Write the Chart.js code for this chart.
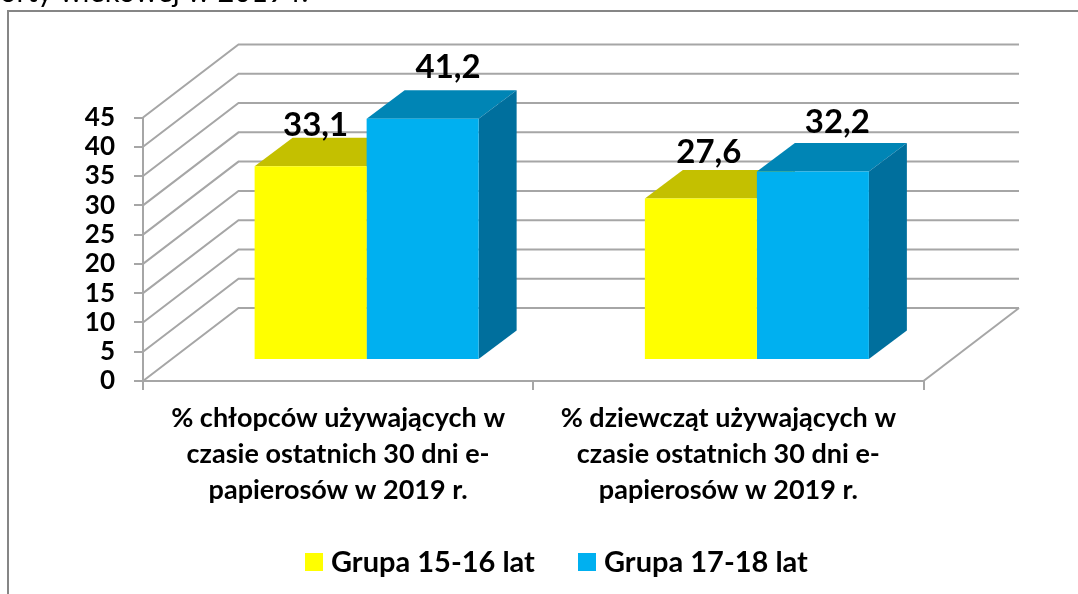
<!DOCTYPE html>
<html><head><meta charset="utf-8">
<style>html,body{margin:0;padding:0;background:#fff}#w{width:1078px;height:594px;position:relative}</style>
<script src="https://cdn.jsdelivr.net/npm/chart.js@4"></script>
</head><body><div id="w"><canvas id="c" width="1078" height="594"></canvas></div>
<script>
const categories = [
  ['% chłopców używających w','czasie ostatnich 30 dni e-','papierosów w 2019 r.'],
  ['% dziewcząt używających w','czasie ostatnich 30 dni e-','papierosów w 2019 r.']
];
const seriesNames = ['Grupa 15-16 lat','Grupa 17-18 lat'];
const group1516 = [33.1, 27.6];
const group1718 = [41.2, 32.2];
const headingText = 'orty wiekowej w 2019 r.';

const FONT = 'Lato, Carlito, sans-serif';
const GRID = '#A6A6A6';
const WALL = {dx:95.5, dy:-73};      // full depth of the 3D floor
const BAR  = {dx:28.5, dy:-21};      // bars stand this far back from the front edge
const DEPTH= {dx:38, dy:-28.5};      // depth of each bar
const faces = [
  {top:'#C4C000', side:'#A8A500'},
  {top:'#0085B5', side:'#006F9D'}
];
const labelShift = [[[5,-30],[8,-35]],[[25.5,-41],[24.5,-38]]];

function poly(ctx,pts,fill){ctx.beginPath();pts.forEach((p,i)=>i?ctx.lineTo(p[0],p[1]):ctx.moveTo(p[0],p[1]));ctx.closePath();ctx.fillStyle=fill;ctx.fill();}

const chart3d = {
  id:'chart3d',
  beforeDatasetsDraw(chart){
    const {ctx,chartArea:a,scales:{y}} = chart;
    ctx.save();
    ctx.strokeStyle=GRID; ctx.lineWidth=2;
    y.ticks.forEach(t=>{
      const py=y.getPixelForValue(t.value);
      ctx.beginPath();
      ctx.moveTo(a.left,py);
      ctx.lineTo(a.left+WALL.dx,py+WALL.dy);
      ctx.lineTo(a.right+WALL.dx,py+WALL.dy);
      ctx.stroke();
    });
    ctx.beginPath();
    ctx.moveTo(a.right,a.bottom);
    ctx.lineTo(a.right+WALL.dx,a.bottom+WALL.dy);
    ctx.stroke();
    ctx.restore();
    chart.data.datasets.forEach((ds,i)=>{
      const f=faces[i];
      chart.getDatasetMeta(i).data.forEach(b=>{
        const l=b.x-b.width/2+BAR.dx, r=b.x+b.width/2+BAR.dx, t=b.y+BAR.dy, bt=b.base+BAR.dy;
        poly(ctx,[[l,t],[r,t],[r+DEPTH.dx,t+DEPTH.dy],[l+DEPTH.dx,t+DEPTH.dy]],f.top);
        poly(ctx,[[r,t],[r+DEPTH.dx,t+DEPTH.dy],[r+DEPTH.dx,bt+DEPTH.dy],[r,bt]],f.side);
      });
    });
  },
  beforeDatasetDraw(chart){
    chart.ctx.save();
    chart.ctx.translate(BAR.dx,BAR.dy);
  },
  afterDatasetDraw(chart){ chart.ctx.restore(); },
  afterDatasetsDraw(chart){
    const {ctx}=chart;
    ctx.save();
    ctx.fillStyle='#000'; ctx.textAlign='center'; ctx.textBaseline='alphabetic';
    ctx.font='bold 33px '+FONT;
    chart.data.datasets.forEach((ds,i)=>{
      chart.getDatasetMeta(i).data.forEach((b,j)=>{
        const s=labelShift[i][j];
        ctx.fillText(String(ds.data[j]).replace('.',','), b.x+BAR.dx+s[0], b.y+BAR.dy+s[1]);
      });
    });
    ctx.restore();
  },
  afterDraw(chart){
    const {ctx}=chart;
    ctx.save();
    // frame
    ctx.strokeStyle='#868686'; ctx.lineWidth=2;
    ctx.beginPath(); ctx.moveTo(8,600); ctx.lineTo(8,11); ctx.lineTo(1090,11); ctx.stroke();
    // heading fragment
    ctx.fillStyle='#000'; ctx.textAlign='left'; ctx.textBaseline='alphabetic';
    ctx.font='29px '+FONT;
    ctx.fillText(headingText,0,2);
    // legend
    ctx.font='bold 29px '+FONT;
    ctx.textBaseline='alphabetic';
    const xs=[305,578];
    chart.data.datasets.forEach((ds,i)=>{
      ctx.fillStyle=ds.backgroundColor;
      ctx.fillRect(xs[i],553,18,18);
      ctx.fillStyle='#000';
      ctx.fillText(ds.label,xs[i]+26,572);
    });
    ctx.restore();
  }
};

new Chart(document.getElementById('c'),{
  type:'bar',
  data:{labels:categories,datasets:[
    {label:seriesNames[0],data:group1516,backgroundColor:'#FFFF00',categoryPercentage:0.574,barPercentage:1},
    {label:seriesNames[1],data:group1718,backgroundColor:'#00B0F0',categoryPercentage:0.574,barPercentage:1}
  ]},
  options:{
    responsive:false,animation:false,
    layout:{padding:{left:0,top:117.5,right:154.5,bottom:0}},
    plugins:{legend:{display:false},title:{display:false},tooltip:{enabled:false}},
    scales:{
      x:{
        afterFit(s){s.height=594-381;},
        grid:{drawOnChartArea:false,tickLength:9,color:GRID,lineWidth:2},
        border:{color:GRID,width:2},
        ticks:{color:'#000',maxRotation:0,minRotation:0,autoSkip:false,padding:10,font:{family:FONT,weight:'bold',size:27,lineHeight:1.333}}
      },
      y:{
        min:0,max:45,
        afterFit(s){s.width=143;},
        grid:{drawOnChartArea:false,tickLength:9,color:GRID,lineWidth:2},
        border:{color:GRID,width:2},
        ticks:{stepSize:5,autoSkip:false,color:'#000',padding:19,font:{family:FONT,weight:'bold',size:26}}
      }
    }
  },
  plugins:[chart3d]
});
</script></body></html>
